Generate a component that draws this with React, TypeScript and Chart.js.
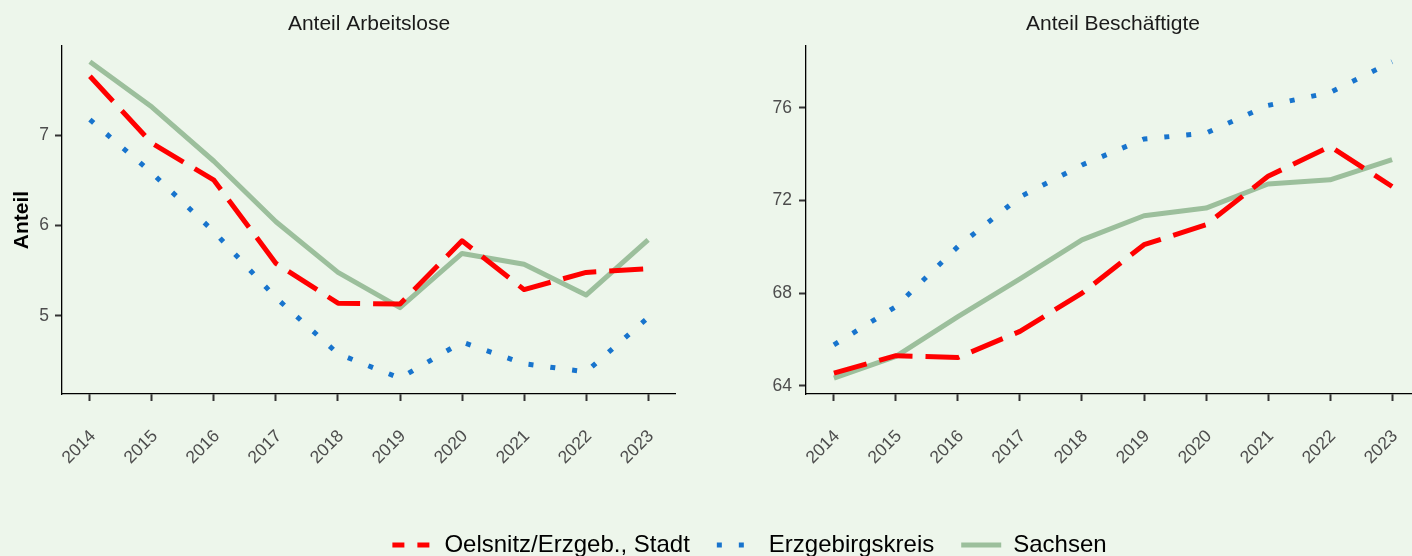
import React, { useEffect, useRef } from 'react';
import { Chart, registerables } from 'chart.js';

Chart.register(...registerables);

const FONT = '"Liberation Sans", Arial, Helvetica, sans-serif';
Chart.defaults.font.family = FONT;

// ---------------- data ----------------
const years = [2014, 2015, 2016, 2017, 2018, 2019, 2020, 2021, 2022, 2023];
const seriesNames = ['Oelsnitz/Erzgeb., Stadt', 'Erzgebirgskreis', 'Sachsen'];

const arbeitsloseOelsnitz = [7.65, 6.91, 6.5, 5.58, 5.14, 5.13, 5.83, 5.29, 5.48, 5.52];
const arbeitsloseErzgebirge = [7.17, 6.58, 5.93, 5.2, 4.58, 4.31, 4.71, 4.47, 4.38, 4.98];
const arbeitsloseSachsen = [7.81, 7.31, 6.71, 6.04, 5.48, 5.09, 5.69, 5.57, 5.23, 5.84];

const beschOelsnitz = [64.55, 65.3, 65.22, 66.35, 68.0, 70.09, 70.95, 73.04, 74.33, 72.6];
const beschErzgebirge = [65.77, 67.42, 70.01, 72.15, 73.53, 74.65, 74.9, 76.1, 76.66, 77.98];
const beschSachsen = [64.33, 65.27, 66.99, 68.61, 70.3, 71.34, 71.67, 72.71, 72.89, 73.76];

const leftYTicks = [5, 6, 7];
const rightYTicks = [64, 68, 72, 76];

const titleLeft = 'Anteil Arbeitslose';
const titleRight = 'Anteil Beschäftigte';
const yAxisTitle = 'Anteil';

// ---------------- styles ----------------
const BG = '#EDF6EB';
const COLORS = ['#FF0000', '#1874CD', '#9CBF9C'];
const DASHES = [[34, 13], [5, 17], []];
const LEGEND_DASHES = [[12, 13], [5, 17], []];
const WIDTHS = [5, 5, 5];

function expand(vals: number[], mult = 0.05): [number, number] {
  const mn = Math.min(...vals);
  const mx = Math.max(...vals);
  const d = (mx - mn) * mult;
  return [mn - d, mx + d];
}

const xMin = years[0] - (years[years.length - 1] - years[0]) * 0.05;
const xMax = years[years.length - 1] + (years[years.length - 1] - years[0]) * 0.05;

function makeDatasets(series: number[][]) {
  return series.map((vals, i) => ({
    label: seriesNames[i],
    data: years.map((y, j) => ({ x: y, y: vals[j] })),
    borderColor: COLORS[i],
    backgroundColor: COLORS[i],
    borderWidth: WIDTHS[i],
    borderDash: DASHES[i],
    borderCapStyle: 'butt' as const,
    borderJoinStyle: 'round' as const,
    pointRadius: 0,
    tension: 0,
    fill: false,
  }));
}

interface PanelProps {
  left: number;
  width: number;
  height: number;
  yWidth: number;
  title: string;
  yTitle?: string;
  series: number[][];
  yTicks: number[];
  yTickPad: number;
}

function Panel({ left, width, height, yWidth, title, yTitle, series, yTicks, yTickPad }: PanelProps) {
  const ref = useRef<HTMLCanvasElement>(null);
  useEffect(() => {
    if (!ref.current) return;
    const all = series.flat();
    const [yMin, yMax] = expand(all);
    const tickFont = { family: FONT, size: 17.5 };
    const chart = new Chart(ref.current, {
      type: 'line',
      data: { datasets: makeDatasets(series) as any },
      options: {
        responsive: false,
        maintainAspectRatio: false,
        animation: false,
        layout: { padding: 0 },
        plugins: {
          legend: { display: false },
          tooltip: { enabled: false },
          title: {
            display: true,
            text: title,
            fullSize: false,
            color: '#1A1A1A',
            font: { family: FONT, size: 21, weight: 'normal', lineHeight: 1.2 },
            padding: { top: 11.4, bottom: 9.4 },
          },
        },
        scales: {
          x: {
            type: 'linear',
            min: xMin,
            max: xMax,
            afterBuildTicks: (s: any) => {
              s.ticks = years.map((v) => ({ value: v }));
            },
            afterFit: (s: any) => {
              s.height = height - 394;
              s.paddingLeft = 0;
              s.paddingRight = 0;
            },
            ticks: {
              autoSkip: false,
              maxRotation: 45,
              minRotation: 45,
              color: '#4D4D4D',
              font: tickFont,
              padding: 25,
              labelOffset: 3,
              callback: (v: any) => String(v),
            },
            grid: {
              display: true,
              drawOnChartArea: false,
              drawTicks: true,
              tickLength: 7,
              tickWidth: 2,
              tickColor: '#333333',
              color: '#333333',
            },
            border: { display: true, color: '#000000', width: 1.3 },
          },
          y: {
            type: 'linear',
            min: yMin,
            max: yMax,
            afterBuildTicks: (s: any) => {
              s.ticks = yTicks.map((v) => ({ value: v }));
            },
            afterFit: (s: any) => {
              s.width = yWidth;
            },
            ticks: {
              color: '#4D4D4D',
              font: tickFont,
              padding: yTickPad,
              callback: (v: any) => String(v),
            },
            grid: {
              display: true,
              drawOnChartArea: false,
              drawTicks: true,
              tickLength: 7,
              tickWidth: 2,
              tickColor: '#333333',
              color: '#333333',
            },
            border: { display: true, color: '#000000', width: 1.3 },
            title: {
              display: !!yTitle,
              text: yTitle || '',
              color: '#000000',
              font: { family: FONT, size: 21, weight: 'bold', lineHeight: 1.2 },
              padding: { top: 10, bottom: 0 },
            },
          },
        },
      } as any,
    });
    return () => chart.destroy();
  }, []);
  return (
    <canvas
      ref={ref}
      width={width}
      height={height}
      style={{ position: 'absolute', left, top: 0, width, height }}
    />
  );
}

function Legend() {
  const ref = useRef<HTMLCanvasElement>(null);
  useEffect(() => {
    if (!ref.current) return;
    const chart = new Chart(ref.current, {
      type: 'line',
      data: {
        labels: years.map(String),
        datasets: seriesNames.map((n, i) => ({
          label: n,
          data: [],
          borderColor: COLORS[i],
          backgroundColor: COLORS[i],
          borderWidth: WIDTHS[i],
          borderDash: DASHES[i],
        })),
      },
      options: {
        responsive: false,
        maintainAspectRatio: false,
        animation: false,
        scales: { x: { display: false }, y: { display: false } },
        plugins: {
          tooltip: { enabled: false },
          title: { display: false },
          legend: {
            display: true,
            position: 'top',
            labels: {
              usePointStyle: true,
              pointStyle: 'line',
              pointStyleWidth: 40,
              padding: 27,
              color: '#000000',
              font: { family: FONT, size: 24 },
              generateLabels: () =>
                seriesNames.map((n, i) => ({
                  text: n,
                  fillStyle: COLORS[i],
                  strokeStyle: COLORS[i],
                  lineWidth: WIDTHS[i],
                  lineDash: LEGEND_DASHES[i],
                  lineCap: 'butt',
                  pointStyle: 'line',
                  hidden: false,
                  datasetIndex: i,
                  fontColor: '#000000',
                })),
            },
          },
        },
      } as any,
    });
    return () => chart.destroy();
  }, []);
  return (
    <canvas
      ref={ref}
      width={1325}
      height={220}
      style={{ position: 'absolute', left: 87, top: 506, width: 1325, height: 220 }}
    />
  );
}

export default function App() {
  return (
    <div
      style={{
        position: 'fixed',
        left: 0,
        top: 0,
        width: 1412,
        height: 556,
        background: BG,
        overflow: 'hidden',
      }}
    >
      <Panel
        left={0}
        width={676}
        height={500}
        yWidth={62}
        title={titleLeft}
        yTitle={yAxisTitle}
        series={[arbeitsloseOelsnitz, arbeitsloseErzgebirge, arbeitsloseSachsen]}
        yTicks={leftYTicks}
        yTickPad={6}
      />
      <Panel
        left={740}
        width={680}
        height={500}
        yWidth={66}
        title={titleRight}
        series={[beschOelsnitz, beschErzgebirge, beschSachsen]}
        yTicks={rightYTicks}
        yTickPad={7}
      />
      <Legend />
    </div>
  );
}
